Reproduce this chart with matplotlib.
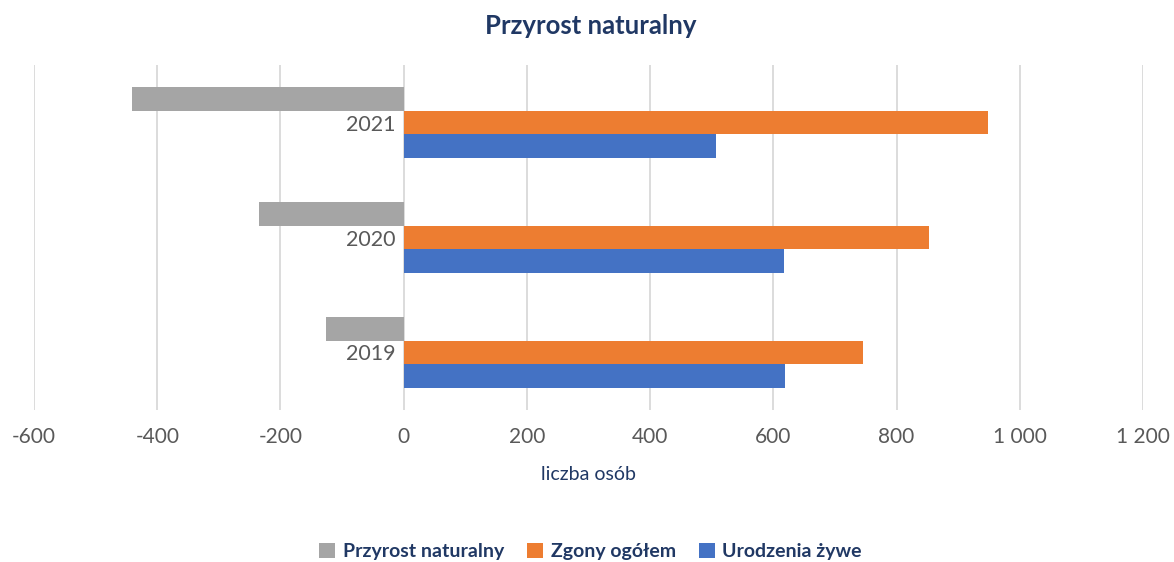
import numpy as np
import matplotlib.pyplot as plt
from matplotlib.ticker import FuncFormatter

# dane
lata = ['2019', '2020', '2021']
urodzenia = [619, 617, 507]
zgony = [745, 852, 948]
przyrost = [-126, -235, -441]

kolory = {'przyrost': '#A5A5A5', 'zgony': '#ED7D31', 'urodzenia': '#4472C4'}
granat = '#203864'
szary_tekst = '#595959'

plt.rcParams['font.family'] = ['Lato', 'DejaVu Sans']

fig = plt.figure(figsize=(11.74, 5.62), dpi=100)
ax = fig.add_axes([0.029, 0.2705, 0.9446, 0.6138])

y = np.arange(len(lata))
h = 0.207

b1 = ax.barh(y + h, przyrost, height=h, color=kolory['przyrost'], label='Przyrost naturalny', zorder=3)
b2 = ax.barh(y, zgony, height=h, color=kolory['zgony'], label='Zgony ogółem', zorder=3)
b3 = ax.barh(y - h, urodzenia, height=h, color=kolory['urodzenia'], label='Urodzenia żywe', zorder=3)

ax.set_xlim(-600, 1200)
ax.set_ylim(-0.5, 2.5)
ax.set_xticks(np.arange(-600, 1201, 200))
ax.xaxis.set_major_formatter(FuncFormatter(lambda v, p: f'{int(v):,}'.replace(',', ' ')))
ax.grid(axis='x', color='#D9D9D9', linewidth=1.3, zorder=0)

# etykiety lat przy osi zero
ax.set_yticks(y)
ax.set_yticklabels(lata)
ax.spines['left'].set_position(('data', 0))
for s in ax.spines.values():
    s.set_visible(False)

ax.tick_params(axis='both', length=0, labelsize=15, labelcolor=szary_tekst)
ax.tick_params(axis='y', labelsize=15.5, pad=6)
ax.tick_params(axis='x', pad=12)

ax.set_xlabel('liczba osób', fontsize=14, color=granat, labelpad=14)

fig.suptitle('Przyrost naturalny', x=0.503, y=0.975, fontsize=18.5, fontweight='bold', color=granat)

leg = fig.legend(handles=[b1, b2, b3], loc='center', bbox_to_anchor=(0.503, 0.018), ncol=3,
                 frameon=False, fontsize=14, handlelength=0.8, handleheight=0.8,
                 handletextpad=0.4, columnspacing=1.2)
for t in leg.get_texts():
    t.set_color(granat)
    t.set_fontweight('bold')

fig.savefig('out.png', dpi=100)
